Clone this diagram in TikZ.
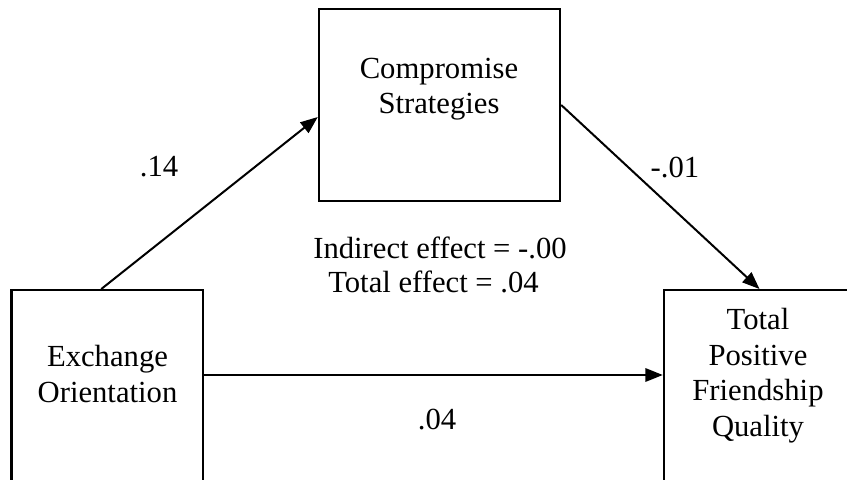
\documentclass[tikz,border=0pt]{standalone}
\usepackage{fontspec}
\setmainfont{Liberation Serif}
\usetikzlibrary{positioning, arrows.meta, calc}
\tikzset{
  varbox/.style={draw, line width=1.8pt, inner sep=0pt},
  vartext/.style={align=center, inner sep=0pt, font=\fontsize{23}{26.6}\selectfont},
  pathlbl/.style={anchor=base, inner sep=0pt, font=\fontsize{23}{26.6}\selectfont},
  effarrow/.style={-{Triangle[length=13pt, width=10pt]}, line width=1.5pt},
}

\begin{document}
\begin{tikzpicture}[x=0.75pt, y=-0.75pt]
  \useasboundingbox (0,0) rectangle (847,479);
  % boxes
  \node[varbox, minimum width=143.6pt, minimum height=157.5pt, anchor=north] (ex) at (107.3,289) {};
  \node[varbox, minimum width=180.75pt, minimum height=144pt] (cs) at (439.5,105) {};
  \node[varbox, minimum width=143.25pt, minimum height=157.5pt, anchor=north] (fq) at (759.5,289) {};
  % box texts
  \node[vartext] (extxt) at (107.5,374) {Exchange\\Orientation};
  \node[vartext] (cstxt) at (439,89) {Compromise\\Strategies};
  \node[vartext] (fqtxt) at (758,375.5) {Total\\Positive\\Friendship\\Quality};
  % paths
  \draw[effarrow] ($(ex.north)+(-6,0)$) -- ($(cs.west)+(0,12)$);
  \draw[effarrow] (cs.east) -- (fq.north);
  \draw[effarrow] ($(ex.north east)+(0,86)$) -- ($(fq.north west)+(0,86)$);
  % coefficients
  \node[pathlbl] (acoef) at (159,176) {.14};
  \node[pathlbl] (bcoef) at (675,177) {-.01};
  \node[pathlbl] (ccoef) at (437,429) {.04};
  \node[pathlbl] (indeff) at (440,258) {Indirect effect = -.00};
  \node[pathlbl] (toteff) at (433.5,292) {Total effect = .04};
\end{tikzpicture}
\end{document}
